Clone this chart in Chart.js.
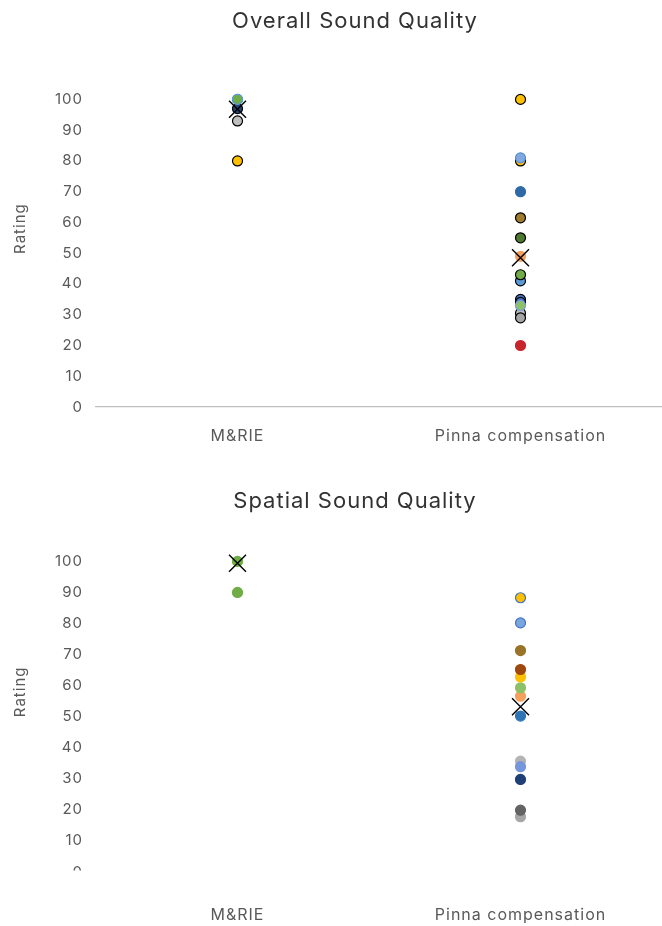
<!DOCTYPE html>
<html>
<head>
<meta charset="utf-8">
<script src="https://cdn.jsdelivr.net/npm/chart.js@4.4.1/dist/chart.umd.min.js"></script>
<style>
  body { margin: 0; background: #fff; }
  .box { width: 662px; height: 463px; position: relative; }
</style>
</head>
<body>
<div class="box"><canvas id="overallChart"></canvas></div>
<div class="box"><canvas id="spatialChart"></canvas></div>
<script>
const categories = ['M&RIE', 'Pinna compensation'];

// Overall Sound Quality (points listed in drawing order)
const overallMrie = [80, 93, 97, 100, 100];
const overallPinna = [20, 30.5, 29, 35, 34, 33, 41, 43, 49, 55, 61.5, 70, 80, 81, 100];
const overallMeans = [96.8, 48.5];

// Spatial Sound Quality
const spatialMrie = [90, 100];
const spatialPinna = [17.8, 19.9, 29.8, 35.7, 33.9, 50.2, 56.6, 59.3, 62.8, 65.2, 71.3, 80.2, 88.3];
const spatialMeans = [99.4, 53.2];

// point colours
const overallMrieFill = ['#ffc000', '#bfbfbf', '#264478', '#5b9bd5', '#70ad47'];
const overallMrieEdge = ['#000000', '#000000', '#000000', '#4472c4', '#5b9bd5'];
const overallPinnaFill = ['#c8242b', '#bfbfbf', '#a5a5a5', '#4472c4', '#4472c4', '#8cc168', '#5b9bd5', '#70ad47',
    '#f4a15d', '#4e7a30', '#9e7c2c', '#2e6aa8', '#ffc000', '#7fa9e0', '#ffc000'];
const overallPinnaEdge = ['#c8242b', '#000000', '#000000', '#000000', '#000000', '#7a9ed8', '#000000', '#000000',
    '#f4a15d', '#000000', '#000000', '#2e6aa8', '#000000', '#5b8fd0', '#000000'];
const spatialMrieFill = ['#70ad47', '#70ad47'];
const spatialPinnaFill = ['#a6a6a6', '#636363', '#1f3f77', '#b4b4b4', '#7496dc', '#2e75b6', '#f4a15d', '#8cc168',
    '#ffc000', '#9e480e', '#997328', '#7aa6e0', '#ffc000'];
const spatialPinnaEdge = ['#a6a6a6', '#636363', '#1f3f77', '#b4b4b4', '#7496dc', '#2e75b6', '#f4a15d', '#8cc168',
    '#ffc000', '#9e480e', '#997328', '#4472c4', '#4472c4'];

const FONT = 'Inter, "Open Sans", sans-serif';
const TEXT = '#595959';

// wider letter spacing, like the original typeface
const spacingPlugin = {
    id: 'spacing',
    beforeUpdate(chart) { chart.ctx.letterSpacing = '1px'; },
    beforeDraw(chart) { chart.ctx.letterSpacing = '1px'; }
};

// y axis title, drawn a little above the middle as in the original
const ratingPlugin = {
    id: 'rating',
    afterDraw(chart) {
        const ctx = chart.ctx;
        const area = chart.chartArea;
        ctx.save();
        ctx.translate(20, area.top + (area.bottom - area.top) * 0.42);
        ctx.rotate(-Math.PI / 2);
        ctx.font = '15px ' + FONT;
        ctx.fillStyle = TEXT;
        ctx.textAlign = 'center';
        ctx.textBaseline = 'middle';
        ctx.fillText('Rating', 0, 0);
        ctx.restore();
    }
};

// hides the strip under the plot, as in the cropped original
const maskPlugin = {
    id: 'mask',
    afterDraw(chart, args, opts) {
        if (!opts.on) return;
        const ctx = chart.ctx;
        ctx.save();
        ctx.fillStyle = '#ffffff';
        ctx.fillRect(0, chart.chartArea.bottom - 1.5, chart.width, opts.height);
        ctx.restore();
    }
};

function pointSet(values, category, fill, edge) {
    return {
        type: 'line',
        showLine: false,
        clip: false,
        data: values.map(v => ({ x: category, y: v })),
        pointRadius: 5,
        pointHoverRadius: 5,
        pointBackgroundColor: fill,
        pointBorderColor: edge,
        pointBorderWidth: 1.2,
        order: 1
    };
}

function meanSet(means) {
    return {
        type: 'line',
        showLine: false,
        clip: false,
        data: means.map((v, i) => ({ x: categories[i], y: v })),
        pointStyle: 'crossRot',
        pointRadius: 12,
        pointHoverRadius: 12,
        pointBorderColor: '#000000',
        pointBackgroundColor: '#000000',
        pointBorderWidth: 1.4,
        order: 0
    };
}

function makeChart(id, title, datasets, lay) {
    return new Chart(document.getElementById(id), {
        type: 'line',
        data: { labels: categories, datasets: datasets },
        options: {
            responsive: true,
            maintainAspectRatio: false,
            animation: false,
            layout: { autoPadding: false, padding: { left: 48, right: 0, top: 0, bottom: 0 } },
            plugins: {
                legend: { display: false },
                tooltip: { enabled: false },
                title: {
                    display: true,
                    text: title,
                    color: '#333333',
                    font: { family: FONT, size: 22, weight: 'normal' },
                    padding: { top: lay.titleTop, bottom: lay.titleBottom }
                },
                mask: { on: lay.mask, height: lay.maskHeight || 0 }
            },
            scales: {
                x: {
                    type: 'category',
                    offset: true,
                    grid: { display: false, drawTicks: false },
                    border: { display: true, color: '#bfbfbf', width: 1.2 },
                    ticks: {
                        color: TEXT,
                        padding: lay.xPad,
                        font: { family: FONT, size: 16 },
                        labelOffset: (c) => (c.index === 0 ? 15 : (c.index === 1 ? -5 : 0))
                    },
                    afterFit: (s) => { s.height = lay.xHeight; }
                },
                y: {
                    min: 0,
                    max: 100,
                    grid: { display: false, drawTicks: false },
                    border: { display: false },
                    ticks: { stepSize: 10, color: TEXT, padding: 13, font: { family: FONT, size: 15 } },
                    afterFit: (s) => { s.width = 48; }
                }
            }
        },
        plugins: [spacingPlugin, ratingPlugin, maskPlugin]
    });
}

makeChart('overallChart', 'Overall Sound Quality', [
    meanSet(overallMeans),
    pointSet(overallMrie, categories[0], overallMrieFill, overallMrieEdge),
    pointSet(overallPinna, categories[1], overallPinnaFill, overallPinnaEdge)
], { titleTop: 8, titleBottom: 65, xHeight: 56, xPad: 20, mask: false });

makeChart('spatialChart', 'Spatial Sound Quality', [
    meanSet(spatialMeans),
    pointSet(spatialMrie, categories[0], spatialMrieFill, spatialMrieFill),
    pointSet(spatialPinna, categories[1], spatialPinnaFill, spatialPinnaEdge)
], { titleTop: 25, titleBottom: 47, xHeight: 54, xPad: 34, mask: true, maskHeight: 31 });
</script>
</body>
</html>
